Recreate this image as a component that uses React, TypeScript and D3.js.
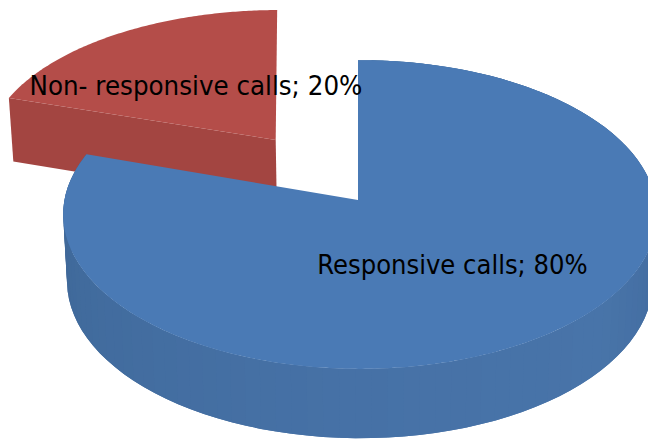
import { useMemo } from 'react'
import { pie, line, range, scaleLinear } from 'd3'

const categories = ['Responsive calls', 'Non- responsive calls']
const shares = [80, 20]
const topColors = ['#4a7ab5', '#b44d49']
const labelAnchors = [[317.2, 274], [29.5, 94.5]]
const labelWidths = [270.5, 333]

const width = 648
const height = 439
const cx = 358
const cy = 200
const radiusX = 295.5
const radiusY = 153
const tilt = 0.094
const skew = 0.0067
const depth = 66
const explode = 0.505

// disc coords -> screen, with a bit of perspective
const project = (u, v, lower = false) => {
  const w = 1 + tilt * v - skew * u
  const x = (radiusX * u) / w
  const y = cy - (radiusY * v) / w
  if (!lower) return [cx + x, y]
  return [cx + x * 0.987, y + depth * (1 - 0.05 * v)]
}

const sideColor = scaleLinear()
  .domain([0, 95, 125, 180, 240, 288])
  .range(['#44709f', '#436c9f', '#4874a9', '#4671a6', '#416b9d', '#3d6593'])

const App = () => {
  const slices = useMemo(() => pie().sort(null).startAngle(0).endAngle(2 * Math.PI)(shares), [])
  const path = line()

  const blue = slices[0]
  const red = slices[1]

  const rim = (a, offset, lower = false) =>
    project(Math.sin(a) + offset[0], Math.cos(a) + offset[1], lower)

  // red slice sits a little off the pure projection, nudge it in x
  const redPoint = (a, offset, lower = false) => {
    const p = rim(a, offset, lower)
    return [p[0] + 2 + 7 * Math.sin(a) - 5.5 * Math.cos(a), p[1]]
  }
  const redTip = (offset, lower = false) => {
    const p = project(offset[0], offset[1], lower)
    return [p[0] + 2, p[1]]
  }

  const mid = (red.startAngle + red.endAngle) / 2
  const redOffset = [Math.sin(mid) * explode, Math.cos(mid) * explode]
  const noOffset = [0, 0]

  const arcAngles = s => range(s.startAngle, s.endAngle, 0.01).concat(s.endAngle)
  const blueTop = path([project(0, 0), ...arcAngles(blue).map(a => rim(a, noOffset))]) + 'Z'
  const redTop = path([redTip(redOffset), ...arcAngles(red).map(a => redPoint(a, redOffset))]) + 'Z'

  // side wall of the blue slice is thin strips, the source has visible bands.
  // each strip overlaps the next one so no seams show
  const stripAngles = range(blue.startAngle, blue.endAngle, 0.05)
  const strips = stripAngles.map((a, i) => {
    const steps = [a, a + 0.05, a + 0.1].map(t => Math.min(t, blue.endAngle))
    const d =
      path([
        ...steps.map(t => rim(t, noOffset)),
        ...steps.slice().reverse().map(t => rim(t, noOffset, true)),
      ]) + 'Z'
    return <path key={i} d={d} fill={sideColor((a * 180) / Math.PI)} />
  }).reverse()

  const redWall =
    path([
      redPoint(red.startAngle, redOffset),
      redTip(redOffset),
      redTip(redOffset, true),
      redPoint(red.startAngle, redOffset, true),
    ]) + 'Z'

  return (
    <svg
      width={width}
      height={height}
      viewBox={`0 0 ${width} ${height}`}
      style={{ position: 'absolute', left: 0, top: 0, display: 'block' }}
    >
      <rect width={width} height={height} fill="#fff" />
      <path d={redWall} fill="#a34541" />
      <path d={redTop} fill={topColors[1]} />
      {strips}
      <path d={blueTop} fill={topColors[0]} />
      {categories.map((c, i) => (
        <text
          key={c}
          x={labelAnchors[i][0]}
          y={labelAnchors[i][1]}
          fontFamily="'DejaVu Sans'"
          fontSize={26}
          fill="#000"
          textLength={labelWidths[i]}
          lengthAdjust="spacingAndGlyphs"
        >
          {`${c}; ${shares[i]}%`}
        </text>
      ))}
    </svg>
  )
}

export default App
